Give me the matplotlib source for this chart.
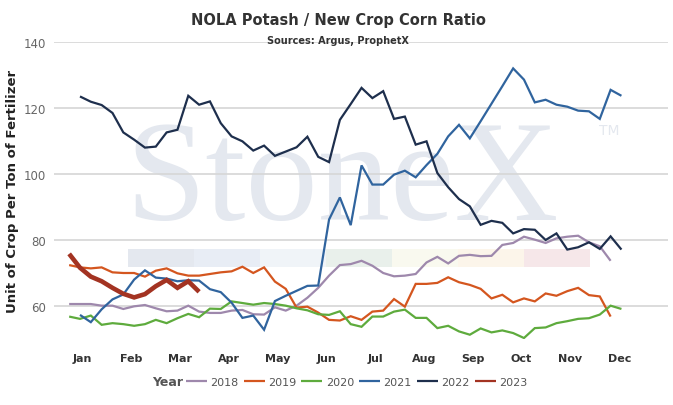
import numpy as np
import matplotlib
matplotlib.use("Agg")
import matplotlib.pyplot as plt
from matplotlib.patches import Rectangle

# ---------------- data (weekly observations, week index relative to early Jan) ----------------
months = ["Jan", "Feb", "Mar", "Apr", "May", "Jun", "Jul", "Aug", "Sep", "Oct", "Nov", "Dec"]
years = ["2018", "2019", "2020", "2021", "2022", "2023"]

start_2018 = -1
v2018 = [60.6, 60.6, 60.6, 60.1, 60.1, 59.1, 59.9, 60.3, 59.3, 58.4,
         58.6, 60.1, 58.3, 57.9, 57.9, 58.6, 58.8, 57.5, 57.4, 59.6,
         58.6, 60.1, 62.5, 65.5, 69.2, 72.4, 72.7, 73.7, 72.2, 70.0,
         69.0, 69.2, 69.7, 73.2, 74.9, 72.9, 75.2, 75.5, 75.1, 75.2,
         78.5, 79.1, 81.0, 80.1, 79.1, 80.5, 81.0, 81.3, 79.3, 78.1,
         73.7]

start_2019 = -1
v2019 = [72.4, 71.7, 71.4, 71.7, 70.2, 70.0, 70.0, 68.9, 70.7, 71.4,
         69.9, 69.2, 69.2, 69.7, 70.2, 70.5, 71.9, 70.0, 71.7, 67.4,
         65.2, 59.5, 59.8, 58.0, 55.8, 55.6, 56.9, 55.8, 58.3, 58.6,
         62.1, 59.8, 66.7, 66.7, 67.0, 68.7, 67.2, 66.4, 65.2, 62.3,
         63.4, 61.1, 62.3, 61.4, 63.8, 63.1, 64.5, 65.5, 63.3, 62.9,
         56.8]

start_2020 = -1
v2020 = [56.8, 56.1, 57.1, 54.3, 54.8, 54.5, 54.0, 54.5, 55.8, 54.8,
         56.3, 57.6, 56.6, 59.2, 59.1, 61.4, 60.9, 60.4, 60.9, 60.6,
         60.1, 59.3, 58.7, 57.5, 57.3, 58.4, 54.5, 53.7, 56.8, 56.8,
         58.3, 58.9, 56.4, 56.4, 53.3, 54.0, 52.3, 51.3, 53.2, 52.0,
         52.6, 51.8, 50.3, 53.3, 53.5, 54.8, 55.4, 56.1, 56.3, 57.4,
         60.1, 59.1]

start_2021 = 0
v2021 = [57.3, 55.1, 59.0, 62.0, 63.5, 68.0, 70.8, 68.6, 68.3, 67.5,
         67.8, 67.7, 65.1, 64.2, 61.0, 56.4, 57.1, 52.8, 61.5, 63.1,
         64.6, 66.1, 66.2, 86.2, 92.9, 84.5, 102.6, 96.8, 96.8, 99.8,
         101.0, 99.0, 102.7, 106.1, 111.4, 114.9, 110.8, 116.0, 121.3, 126.6,
         132.0, 128.6, 121.7, 122.5, 121.0, 120.4, 119.2, 119.0, 116.7, 125.5,
         123.7]

start_2022 = 0
v2022 = [123.5, 121.9, 120.9, 118.5, 112.6, 110.4, 108.0, 108.3, 112.6, 113.4,
         123.7, 121.0, 122.0, 115.4, 111.4, 109.9, 107.1, 108.6, 105.5, 106.8,
         108.1, 111.3, 105.2, 103.6, 116.4, 121.2, 126.1, 123.0, 125.1, 116.7,
         117.4, 108.9, 109.9, 100.3, 96.0, 92.4, 90.2, 84.6, 85.8, 85.2,
         82.0, 83.3, 83.1, 80.0, 82.0, 77.1, 77.8, 79.3, 77.3, 81.1,
         77.1]

start_2023 = -1
v2023 = [75.8, 71.6, 68.9, 67.5, 65.5, 63.7, 62.6, 63.6, 66.0, 67.9,
         65.5, 67.5, 64.3]

series = [
    ("2018", start_2018, v2018, "#9E88AC", 1.6),
    ("2019", start_2019, v2019, "#D4561F", 1.6),
    ("2020", start_2020, v2020, "#5EAB3D", 1.6),
    ("2021", start_2021, v2021, "#30649E", 1.6),
    ("2022", start_2022, v2022, "#1E2F4D", 1.6),
    ("2023", start_2023, v2023, "#A33322", 3.3),
]

# ---------------- figure ----------------
W, H = 673, 406
fig = plt.figure(figsize=(W / 100, H / 100), dpi=100)
ax = fig.add_axes([54 / W, 1 - 340 / H, (668 - 54) / W, (340 - 43) / H])

for name, s0, vals, col, lw in series:
    x = s0 + np.arange(len(vals))
    ax.plot(x, vals, color=col, lw=lw, label=name, solid_joinstyle="miter",
            solid_capstyle="butt", zorder=3)

ax.set_ylim(50, 140)
ax.set_xlim(-2.4, 54.3)
ax.set_yticks([60, 80, 100, 120, 140])
ax.set_xticks(np.linspace(0.2, 49.8, 12))
ax.set_xticklabels(months, fontsize=8, fontweight="bold", color="#333333")
ax.tick_params(axis="y", length=0, labelsize=8.5, labelcolor="#666666", pad=6)
ax.tick_params(axis="x", length=0, pad=10)
for sp in ax.spines.values():
    sp.set_visible(False)
ax.set_axisbelow(True)
ax.grid(axis="y", color="#D6D6D6", lw=1.2)
ax.grid(axis="x", visible=False)
ax.set_ylabel("Unit of Crop Per Ton of Fertilizer", fontsize=9.5,
              fontweight="bold", color="#222222")
ax.yaxis.set_label_coords(-35 / 614, 0.5)

# ---------------- watermark (logo) ----------------
wm_col = "#E4E8EF"
ax.text(0.117, 0.404, "StoneX", transform=ax.transAxes, fontsize=104,
        family="Liberation Serif", color=wm_col, ha="left", va="baseline",
        zorder=0.1)
ax.text(0.888, 0.728, "TM", transform=ax.transAxes, fontsize=10,
        color=wm_col, ha="left", va="top", zorder=0.1)
band_cols = ["#E4E8EF", "#E8EDF5", "#F0F4F8", "#E9F0EB", "#F9F9EF", "#FCF5EA", "#F6E7E9"]
bx0, bw = 74 / 614, 66 / 614
for i, c in enumerate(band_cols):
    ax.add_patch(Rectangle((bx0 + i * bw, 72 / 297), bw, 18 / 297,
                           transform=ax.transAxes, facecolor=c,
                           edgecolor="none", zorder=0.2))

# ---------------- titles ----------------
fig.text(338 / W, 1 - 20 / H, "NOLA Potash / New Crop Corn Ratio",
         ha="center", va="center", fontsize=10.5, fontweight="bold",
         color="#333333")
fig.text(338 / W, 1 - 41 / H, "Sources: Argus, ProphetX",
         ha="center", va="center", fontsize=7, fontweight="bold",
         color="#333333")

# ---------------- legend ----------------
fig.text(183 / W, 1 - 383 / H, "Year", ha="right", va="center",
         fontsize=9, fontweight="bold", color="#555555")
handles, labels = ax.get_legend_handles_labels()
leg = fig.legend(handles, labels, loc="center left",
                 bbox_to_anchor=(186 / W, 1 - 383 / H), ncol=6, frameon=False,
                 fontsize=8, handlelength=1.9, handletextpad=0.3,
                 columnspacing=0.45, borderpad=0, borderaxespad=0)
for t in leg.get_texts():
    t.set_color("#555555")
for h in leg.legend_handles:
    h.set_linewidth(1.6)

fig.savefig("out.png", dpi=100)
